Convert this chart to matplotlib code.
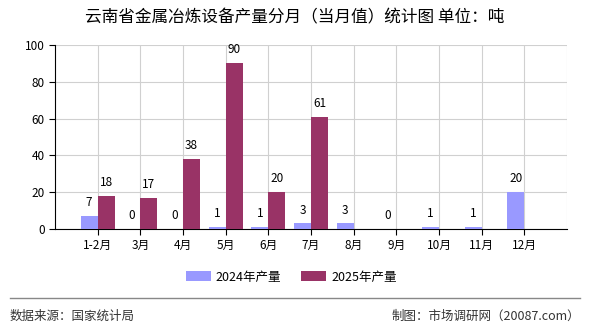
import matplotlib
matplotlib.use("Agg")
import matplotlib.pyplot as plt
import numpy as np

plt.rcParams['font.family'] = ['Noto Sans CJK SC', 'DejaVu Sans']

months = ["1-2月", "3月", "4月", "5月", "6月", "7月", "8月", "9月", "10月", "11月", "12月"]
y2024 = [7, 0, 0, 1, 1, 3, 3, 0, 1, 1, 20]
y2025 = [18, 17, 38, 90, 20, 61]
yticks = [0, 20, 40, 60, 80, 100]

C24 = "#9999FF"
C25 = "#993366"

fig = plt.figure(figsize=(5.9, 3.3), dpi=100)
ax = fig.add_axes([55 / 590, 1 - 229 / 330, 512 / 590, 184 / 330])

x = np.arange(len(months))
w = 0.4
x25 = x[:len(y2025)]
ax.bar(x - w / 2, y2024, width=w, color=C24, label="2024年产量", zorder=3)
ax.bar(x25 + w / 2, y2025, width=w, color=C25, label="2025年产量", zorder=3)

for xi, v in zip(x, y2024):
    ax.annotate(str(v), (xi - w / 2, v), xytext=(0, 5), textcoords="offset points",
                ha="center", va="bottom", fontsize=8.5)
for xi, v in zip(x25, y2025):
    ax.annotate(str(v), (xi + w / 2, v), xytext=(0, 5), textcoords="offset points",
                ha="center", va="bottom", fontsize=8.5)

ax.set_xlim(-1, len(months))
ax.set_ylim(0, 100)
ax.set_yticks(yticks)
ax.set_xticks(x)
ax.set_xticklabels(months, fontsize=8.5)
ax.tick_params(axis="y", labelsize=8.5, length=4)
ax.tick_params(axis="x", length=4)

# grid lines on category positions plus right edge
for gx in list(x) + [len(months)]:
    ax.axvline(gx, color="#d0d0d0", lw=0.8, zorder=0)
ax.grid(axis="y", color="#d0d0d0", lw=0.8, zorder=0)
ax.set_axisbelow(True)
for s in ["top", "right"]:
    ax.spines[s].set_visible(False)
ax.spines["left"].set_color("black")
ax.spines["bottom"].set_color("black")

fig.text(295 / 590, 1 - 18 / 330, "云南省金属冶炼设备产量分月（当月值）统计图 单位：吨",
         ha="center", va="center", fontsize=12)

fig.legend(loc="center", bbox_to_anchor=(291 / 590, 1 - 277 / 330), ncol=2, frameon=False,
           fontsize=9, handlelength=2.0, handleheight=0.8, handletextpad=0.4,
           columnspacing=1.6)

fig.add_artist(plt.Line2D([10 / 590, 580 / 590], [1 - 298 / 330] * 2,
                          color="#888888", lw=1))
fig.text(10 / 590, 1 - 316 / 330, "数据来源：国家统计局", ha="left", va="center",
         fontsize=9, color="#333333")
fig.text(580 / 590, 1 - 316 / 330, "制图：市场调研网（20087.com）", ha="right",
         va="center", fontsize=9, color="#333333")

fig.savefig("out.png", dpi=100)
